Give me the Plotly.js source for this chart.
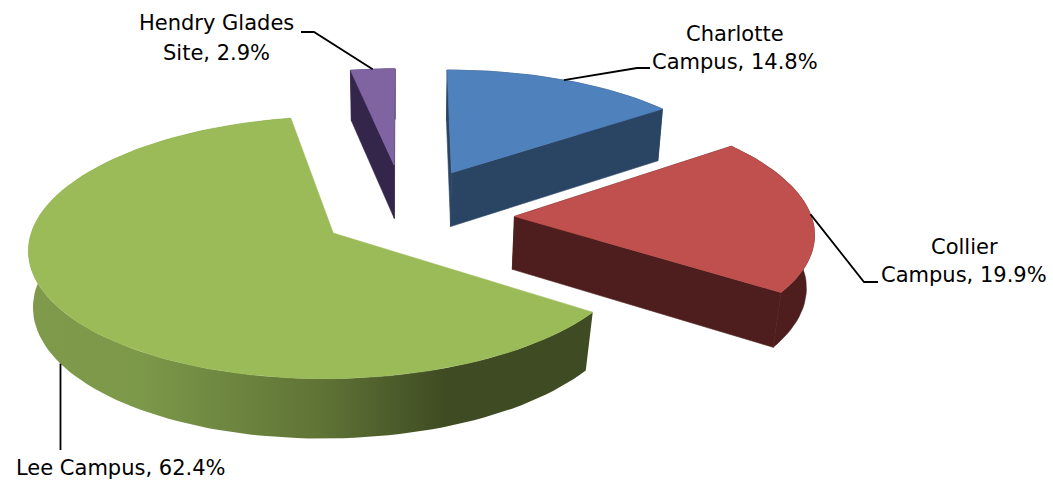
<!DOCTYPE html>
<html>
<head>
<meta charset="utf-8">
<script src="https://cdn.plot.ly/plotly-3.0.1.min.js"></script>
<style>html,body{margin:0;padding:0;background:#fff}#chart{width:1053px;height:480px}</style>
</head>
<body>
<div id="chart"></div>
<script>
// Enrollment share by campus
const campusHeads = ['Charlotte', 'Collier', '', 'Hendry Glades'];
const campusTails = ['Campus', 'Campus', 'Lee Campus', 'Site'];
const shares = [14.8, 19.9, 62.4, 2.9];

// Slice appearance
const topColors = ['#4f81bd', '#c0504d', '#9bbb59', '#8064a2'];
const wallColors = ['#2a4563', '#4d1e1d', '#4b5c2a', '#33264a'];
const drawOrder = [0, 3, 2, 1];

// Pulled-out placement of each slice on the disc plane, radii and thickness
const apexX = [0.161, 0.365, -0.236, -0.038];
const apexY = [-0.367, -0.005, 0.127, -0.435];
const radiusX = [0.98, 0.99, 0.993, 0.94];
const radiusY = [0.98, 1, 1.008, 0.925];
const depth = [56, 54, 57, 56];
const bottomShift = [0, 0, -3, 0];

// Perspective camera for the tilted disc, Z = 0 top face, Z = 1 bottom face
const cam = {x0: 405, y0: 217, A: 300, B: 125, p: 0.108, q: 0.02};
function project(X, Y, Z, i) {
  const w = 1 - cam.p * Y + cam.q * Z;
  return [cam.x0 + cam.A * X / w + bottomShift[i] * Z, cam.y0 + (cam.B * Y + depth[i] * Z) / w];
}

// Slice angle spans, clockwise from twelve o'clock
const total = shares.reduce((a, b) => a + b, 0);
let running = 0;
const spans = shares.map(v => {
  const from = running;
  running += v / total * 360;
  return [from, running];
});

const rad = d => d * Math.PI / 180;
function rimPoint(i, deg, Z) {
  return project(apexX[i] + radiusX[i] * Math.sin(rad(deg)), apexY[i] - radiusY[i] * Math.cos(rad(deg)), Z, i);
}
function arc(i, Z, reverse) {
  const [from, to] = spans[i];
  const n = Math.max(6, Math.ceil((to - from) / 2));
  const pts = [];
  for (let k = 0; k <= n; k++) pts.push(rimPoint(i, from + (to - from) * k / n, Z));
  return reverse ? pts.reverse() : pts;
}
const apexPoint = (i, Z) => project(apexX[i], apexY[i], Z, i);

function polygon(pts, color, gradient) {
  const t = {
    x: pts.map(p => p[0]).concat(pts[0][0]),
    y: pts.map(p => p[1]).concat(pts[0][1]),
    mode: 'lines', line: {width: gradient ? 0 : 0.6, color}, fill: 'toself',
    fillcolor: color, hoverinfo: 'skip', showlegend: false
  };
  if (gradient) t.fillgradient = gradient;
  return t;
}

const leeSideGradient = {
  type: 'horizontal',
  colorscale: [[0, '#7e9a4a'], [0.2, '#7c9849'], [0.52, '#5f7336'], [0.74, '#3f4b22'], [1, '#3f4b22']]
};

const traces = [];
drawOrder.forEach(i => {
  const gradient = i === 2 ? leeSideGradient : null;
  // radial cut walls
  [spans[i][0], spans[i][1]].forEach(deg => {
    if (!gradient) traces.push(polygon([apexPoint(i, 0), rimPoint(i, deg, 0), rimPoint(i, deg, 1), apexPoint(i, 1)], wallColors[i]));
  });
  // outer curved wall
  traces.push(polygon(arc(i, 0, false).concat(arc(i, 1, true)), wallColors[i], gradient));
  // top face
  traces.push(polygon([apexPoint(i, 0)].concat(arc(i, 0, false)), topColors[i]));
});

// Leader lines run from each slice's rim near its mid-angle to its label
const midDeg = i => (spans[i][0] + spans[i][1]) / 2;
const leeAnchor = rimPoint(2, midDeg(2) + 1, 1);
const leaders = [
  [rimPoint(0, midDeg(0), 0), [637, 68], [650, 68]],
  [rimPoint(1, midDeg(1), 0), [864, 282], [878, 282]],
  [leeAnchor, [leeAnchor[0], 450]],
  [rimPoint(3, midDeg(3), 0), [314, 32], [301, 32]]
];
leaders.forEach(l => traces.push({
  x: l.map(p => p[0]), y: l.map(p => p[1]),
  mode: 'lines', line: {color: '#000', width: 1.8},
  hoverinfo: 'skip', showlegend: false
}));

// Data labels, one annotation per text line
const labelAnchors = [[735, 34, 62], [964, 247, 275], [120, 0, 468], [216, 23, 53]];
const font = {family: 'DejaVu Sans, sans-serif', size: 21, color: '#000'};
const annotations = [];
shares.forEach((v, i) => {
  const [x, y1, y2] = labelAnchors[i];
  if (campusHeads[i]) {
    annotations.push({x, y: y1, xref: 'x', yref: 'y', text: campusHeads[i], showarrow: false, font});
  }
  annotations.push({x, y: y2, xref: 'x', yref: 'y', text: campusTails[i] + ', ' + v.toFixed(1) + '%', showarrow: false, font});
});

const layout = {
  width: 1053, height: 480,
  margin: {l: 0, r: 0, t: 0, b: 0},
  paper_bgcolor: '#fff', plot_bgcolor: '#fff',
  xaxis: {range: [0, 1053], visible: false, fixedrange: true},
  yaxis: {range: [480, 0], visible: false, fixedrange: true},
  annotations
};
Plotly.newPlot('chart', traces, layout, {displayModeBar: false, staticPlot: true});
</script>
</body>
</html>
